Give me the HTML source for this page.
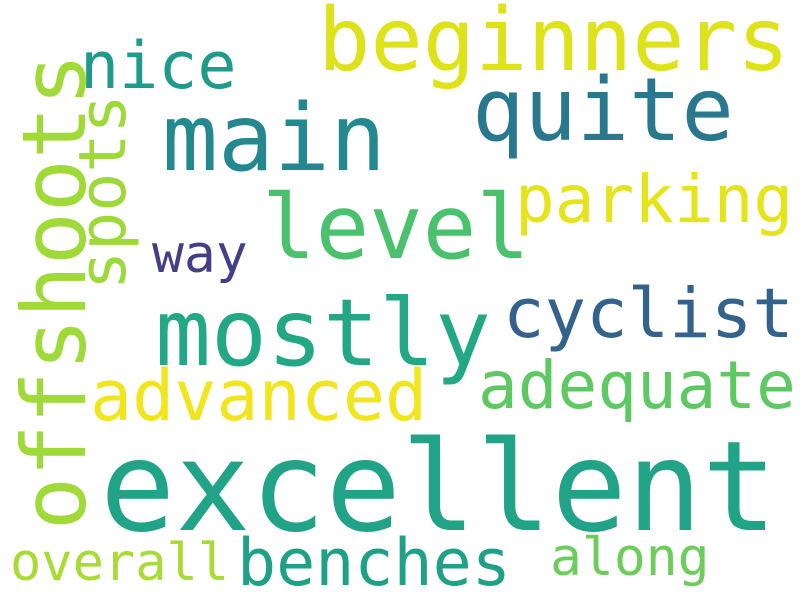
<!DOCTYPE html>
<html>
<head>
<meta charset="utf-8">
<style>
html,body{margin:0;padding:0;background:#fff;}
svg{display:block;}
text{font-family:"DejaVu Sans Mono","Liberation Mono",monospace;}
</style>
</head>
<body>
<svg id="cloud" width="800" height="600" viewBox="0 0 800 600" xmlns="http://www.w3.org/2000/svg">
<rect width="800" height="600" fill="#ffffff"/>
</svg>
<script>
const words = ["excellent","beginners","quite","main","level","mostly","cyclist","parking","adequate","advanced","benches","along","overall","nice","way","offshoots","spots"];
const sizes = [125,87,87,93,89,93,69,66,66,70,65,53,52,65,53,88,65];
const colors = ["#20a386","#dde318","#2a788e","#23898e","#4ac16d","#22a884","#33638d","#e5e419","#5ec962","#f1e51d","#1fa187","#6ccd5a","#a8db34","#1e9b8a","#423f85","#a0da39","#9dd93b"];
const layoutX = [100,318,472,162,262,155,503,515,478,90,237,550,10,80,152,85,125];
const layoutY = [530,70,140,170,258,365,337,222,408,420,585,575,580,88,272,530,290];
const vertical = [0,0,0,0,0,0,0,0,0,0,0,0,0,0,0,1,1];
const svg = document.getElementById('cloud');
const NS = 'http://www.w3.org/2000/svg';
words.forEach((w,i)=>{
  const t = document.createElementNS(NS,'text');
  t.setAttribute('font-size', sizes[i]);
  t.setAttribute('fill', colors[i]);
  if (vertical[i]) {
    t.setAttribute('transform', 'translate(' + layoutX[i] + ',' + layoutY[i] + ') rotate(-90)');
  } else {
    t.setAttribute('x', layoutX[i]);
    t.setAttribute('y', layoutY[i]);
  }
  t.textContent = w;
  
  
  svg.appendChild(t);
});
</script>
</body>
</html>
